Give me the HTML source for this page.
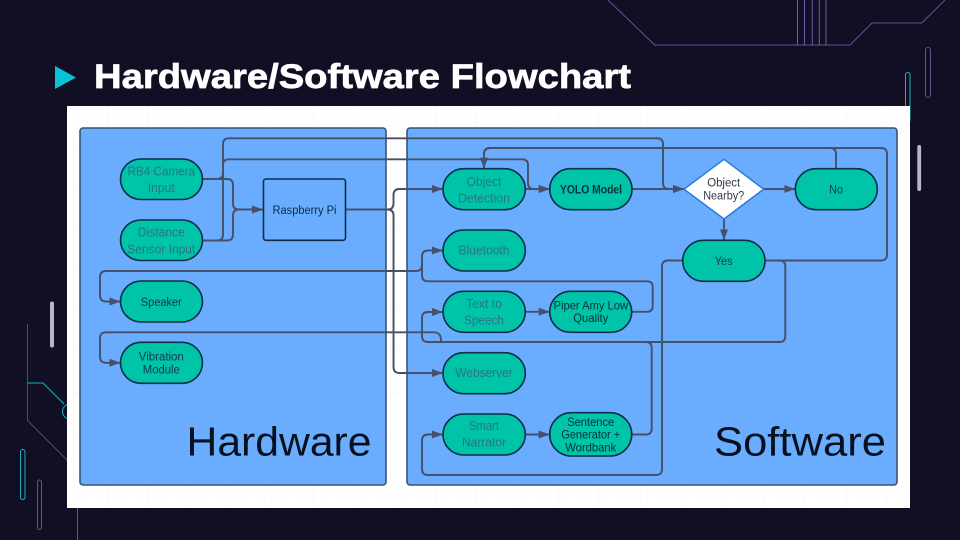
<!DOCTYPE html>
<html>
<head>
<meta charset="utf-8">
<style>
html,body{margin:0;padding:0;width:960px;height:540px;overflow:hidden;background:#110f24}
svg{display:block}
text{font-family:"Liberation Sans",sans-serif}
.c{stroke:#475068;stroke-width:1.9;fill:none}
.p{fill:#00c4a7;stroke:#0f2c4a;stroke-width:1.6}
.t{font-size:12.5px;text-anchor:middle}
.dim{fill:#2b7484}
.dk{fill:#0f3a4c}
.bk{fill:#06303a}
</style>
</head>
<body>
<svg width="960" height="540" viewBox="0 0 960 540" xmlns="http://www.w3.org/2000/svg">
<defs>
<pattern id="g1" width="10" height="10" patternUnits="userSpaceOnUse" x="67" y="106">
<path d="M10 0V10M0 10H10" stroke="#f9fafb" stroke-width="0.7" fill="none"/>
</pattern>
<pattern id="g2" width="41" height="41" patternUnits="userSpaceOnUse" x="67" y="106">
<path d="M41 0V41M0 41H41" stroke="#f2f3f6" stroke-width="0.7" fill="none"/>
</pattern>
<marker id="a" markerUnits="userSpaceOnUse" markerWidth="12" markerHeight="10" refX="11" refY="4.5" orient="auto">
<path d="M0 0.5L11 4.5L0 8.5Z" fill="#475068"/>
</marker>
</defs>

<rect width="960" height="540" fill="#110f24"/>

<!-- background decoration -->
<g fill="none">
<path d="M608 0L654.7 45H850L872 23H921.7L945 0" stroke="#5f5690" stroke-width="1"/>
<path d="M797.5 0V45M804.5 0V45M812.3 0V45M819.3 0V45M826 0V45" stroke="#6a5fa8" stroke-width="1"/>
<rect x="925.5" y="47.5" width="5" height="50" rx="2.5" stroke="#5f5690" stroke-width="1"/>
<rect x="905.5" y="72.5" width="4.5" height="50" rx="2.2" stroke="#1fb0bd" stroke-width="1"/>
<path d="M27.5 324V420.5L75 468" stroke="#4f4a78" stroke-width="1"/>
<path d="M27.5 383H43L64 404" stroke="#1fb0bd" stroke-width="1"/>
<circle cx="70" cy="411.5" r="7.5" stroke="#1fb0bd" stroke-width="1"/>
<rect x="20.5" y="449.5" width="4.5" height="50" rx="2.2" stroke="#1fb0bd" stroke-width="1"/>
<rect x="37.5" y="480" width="4" height="49.5" rx="2" stroke="#5f5690" stroke-width="1"/>
<path d="M77.5 500V540" stroke="#5f5690" stroke-width="1"/>
</g>
<rect x="917.3" y="145" width="3.8" height="46" rx="1.9" fill="#b9b8c2"/>
<rect x="50" y="301.5" width="4" height="46" rx="2" fill="#b9b8c2"/>

<!-- title -->
<polygon points="55,66 76,77.5 55,89" fill="#0cc0d8"/>
<text x="94" y="88" font-size="34.5" font-weight="700" fill="#ffffff" stroke="#ffffff" stroke-width="0.7" textLength="537" lengthAdjust="spacingAndGlyphs">Hardware/Software Flowchart</text>

<!-- white panel -->
<rect x="67" y="106" width="843" height="402" fill="#ffffff"/>
<rect x="67" y="106" width="843" height="402" fill="url(#g1)"/>
<rect x="67" y="106" width="843" height="402" fill="url(#g2)"/>

<!-- group boxes -->
<rect x="80" y="128" width="306" height="357" rx="3" fill="#6aadff" stroke="#3b5375" stroke-width="1.6"/>
<rect x="407" y="128" width="490" height="357" rx="3" fill="#6aadff" stroke="#3b5375" stroke-width="1.6"/>
<text x="186.5" y="455.5" font-size="41" fill="#07101f" textLength="185" lengthAdjust="spacingAndGlyphs">Hardware</text>
<text x="714" y="455.5" font-size="41" fill="#07101f" textLength="172" lengthAdjust="spacingAndGlyphs">Software</text>

<!-- connectors -->
<g class="c">
<path d="M202 179H217Q223 179 223 173V144Q223 138.3 229 138.3H657Q663 138.3 663 144V183Q663 189 669 189H684" marker-end="url(#a)"/>
<path d="M202 240.5H217Q223 240.5 223 234.5V165Q223 159.3 229 159.3H522Q528 159.3 528 165V183Q528 189 534 189H549.7" marker-end="url(#a)"/>
<path d="M202 179H227Q233 179 233 185V203.5Q233 209.5 239 209.5H263" marker-end="url(#a)"/>
<path d="M202 240.5H227Q233 240.5 233 234.5V215.5Q233 209.5 239 209.5H263" marker-end="url(#a)"/>
<path d="M346 209.5H387.5Q393.5 209.5 393.5 203.5V195Q393.5 189 399.5 189H443" marker-end="url(#a)"/>
<path d="M346 209.5H387.5Q393.5 209.5 393.5 215.5V367Q393.5 373 399.5 373H443" marker-end="url(#a)"/>
<path d="M525.3 189H549.7" marker-end="url(#a)"/>
<path d="M632 189H684" marker-end="url(#a)"/>
<path d="M763.7 189H795.3" marker-end="url(#a)"/>
<path d="M724 219V240.3" marker-end="url(#a)"/>
<path d="M836 168.7V154Q836 148 830 148H490Q484 148 484 154V168.7" marker-end="url(#a)"/>
<path d="M765 260.5H881Q887 260.5 887 254.5V154Q887 148 881 148H490Q484 148 484 154V168.7"/>
<path d="M765 260.5H779.5Q785.3 260.5 785.3 266.5V336Q785.3 342 779.5 342H428Q422 342 422 336V318Q422 312 428 312H443" marker-end="url(#a)"/>
<path d="M682.7 260.5H668Q662 260.5 662 266.5V469Q662 475 656 475H428Q422 475 422 469V440.5Q422 434.5 428 434.5H443" marker-end="url(#a)"/>
<path d="M525.3 311.8H549.7" marker-end="url(#a)"/>
<path d="M525.3 434.5H549.7" marker-end="url(#a)"/>
<path d="M632 311.8H647Q652.7 311.8 652.7 306V287Q652.7 281.3 647 281.3H428Q422 281.3 422 275.5V256.5Q422 250.5 428 250.5H443" marker-end="url(#a)"/>
<path d="M422 265Q422 271 416 271H106Q100 271 100 277V295.5Q100 301.5 106 301.5H120.5" marker-end="url(#a)"/>
<path d="M441 342Q441.5 332.3 434 332.3H106Q100 332.3 100 338.3V356.8Q100 362.8 106 362.8H120.5" marker-end="url(#a)"/>
<path d="M632 434.5H646Q651.7 434.5 651.7 428.5V348Q651.7 342 646 342H440"/>
</g>

<!-- nodes -->
<rect class="p" x="120.5" y="159" width="82" height="40.5" rx="20.2"/>
<rect class="p" x="120.5" y="220" width="82" height="40.5" rx="20.2"/>
<rect class="p" x="120.5" y="281" width="82" height="41" rx="20.5"/>
<rect class="p" x="120.5" y="342.3" width="82" height="41" rx="20.5"/>
<rect x="263.5" y="179" width="82" height="61.3" rx="2.5" fill="#6aadff" stroke="#0f2c4a" stroke-width="1.6"/>
<rect class="p" x="443" y="168.7" width="82.3" height="41" rx="20.5"/>
<rect class="p" x="549.7" y="168.7" width="82.3" height="41" rx="20.5"/>
<rect class="p" x="443" y="230" width="82.3" height="41" rx="20.5"/>
<rect class="p" x="443" y="291.3" width="82.3" height="41" rx="20.5"/>
<rect class="p" x="549.7" y="291.3" width="82" height="41" rx="20.5"/>
<rect class="p" x="443" y="352.7" width="82.3" height="41" rx="20.5"/>
<rect class="p" x="443" y="414" width="82.3" height="41" rx="20.5"/>
<rect class="p" x="549.7" y="412.7" width="82" height="43.3" rx="21.6"/>
<polygon points="724,159.3 763.7,189.2 724,219 684,189.2" fill="#ffffff" stroke="#2c78d8" stroke-width="1.5" stroke-linejoin="round"/>
<rect class="p" x="795.3" y="168.7" width="82" height="41" rx="20.5"/>
<rect class="p" x="682.7" y="240.3" width="82.3" height="41" rx="20.5"/>

<!-- labels -->
<g class="t">
<text class="dim" x="161.3" y="175.7" textLength="67.5" lengthAdjust="spacingAndGlyphs">RB4 Camera</text>
<text class="dim" x="161.3" y="192.2" textLength="27" lengthAdjust="spacingAndGlyphs">Input</text>
<text class="dim" x="161.3" y="236.7" textLength="47" lengthAdjust="spacingAndGlyphs">Distance</text>
<text class="dim" x="161.3" y="253.3" textLength="68" lengthAdjust="spacingAndGlyphs">Sensor Input</text>
<text class="dk" x="161.3" y="306" font-size="11.5" textLength="41" lengthAdjust="spacingAndGlyphs">Speaker</text>
<text class="dk" x="161.3" y="360.7" font-size="11.5" textLength="45" lengthAdjust="spacingAndGlyphs">Vibration</text>
<text class="dk" x="161.3" y="373.3" font-size="11.5" textLength="37" lengthAdjust="spacingAndGlyphs">Module</text>
<text fill="#10294a" x="304.5" y="214" font-size="11.5" textLength="64" lengthAdjust="spacingAndGlyphs">Raspberry Pi</text>
<text class="dim" x="484" y="186" textLength="35" lengthAdjust="spacingAndGlyphs">Object</text>
<text class="dim" x="484" y="202.3" textLength="52" lengthAdjust="spacingAndGlyphs">Detection</text>
<text class="bk" x="591" y="193.3" font-size="12" font-weight="700" textLength="62" lengthAdjust="spacingAndGlyphs">YOLO Model</text>
<text class="dim" x="484" y="254.7" textLength="51" lengthAdjust="spacingAndGlyphs">Bluetooth</text>
<text class="dim" x="484" y="308" textLength="36" lengthAdjust="spacingAndGlyphs">Text to</text>
<text class="dim" x="484" y="324.7" textLength="40" lengthAdjust="spacingAndGlyphs">Speech</text>
<text class="bk" x="590.8" y="309.3" font-size="12" textLength="74.5" lengthAdjust="spacingAndGlyphs">Piper Amy Low</text>
<text class="bk" x="590.8" y="322" font-size="12" textLength="35" lengthAdjust="spacingAndGlyphs">Quality</text>
<text class="dim" x="484" y="377" textLength="57.5" lengthAdjust="spacingAndGlyphs">Webserver</text>
<text class="dim" x="484" y="430" textLength="30" lengthAdjust="spacingAndGlyphs">Smart</text>
<text class="dim" x="484" y="446.7" textLength="44" lengthAdjust="spacingAndGlyphs">Narrator</text>
<text class="bk" x="590.7" y="426" font-size="12" textLength="47" lengthAdjust="spacingAndGlyphs">Sentence</text>
<text class="bk" x="590.7" y="438.7" font-size="12" textLength="59" lengthAdjust="spacingAndGlyphs">Generator +</text>
<text class="bk" x="590.7" y="451.3" font-size="12" textLength="51" lengthAdjust="spacingAndGlyphs">Wordbank</text>
<text fill="#333a48" x="723.7" y="186.7" font-size="11.5" textLength="33" lengthAdjust="spacingAndGlyphs">Object</text>
<text fill="#333a48" x="723.7" y="199.7" font-size="11.5" textLength="41" lengthAdjust="spacingAndGlyphs">Nearby?</text>
<text class="dk" x="836" y="193.3" font-size="11.5" textLength="14" lengthAdjust="spacingAndGlyphs">No</text>
<text class="dk" x="723.7" y="265" font-size="11.5" textLength="18" lengthAdjust="spacingAndGlyphs">Yes</text>
</g>
</svg>
</body>
</html>
